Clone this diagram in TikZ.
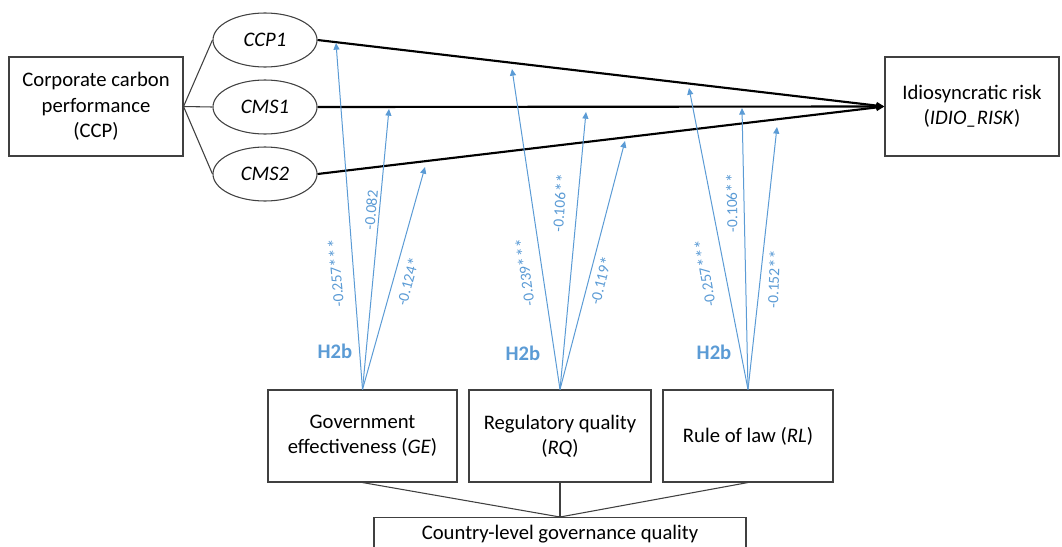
\documentclass[tikz,border=0pt]{standalone}
\usepackage{fontspec}
\setmainfont{Carlito}
\usetikzlibrary{arrows.meta,shapes.geometric}
\definecolor{lblue}{HTML}{5B9BD5}
\definecolor{edgegray}{HTML}{404040}
\newcommand{\sk}{\raisebox{-0.35ex}{\fontsize{14}{14}\selectfont *}}
\begin{document}
\begin{tikzpicture}[x=0.75pt,y=-0.75pt,
  box/.style={draw=edgegray, line width=0.8pt, align=center, inner sep=0pt,
    font=\fontsize{15.5}{19}\selectfont},
  ell/.style={draw=edgegray, line width=0.8pt, ellipse, inner sep=0pt,
    minimum width=78pt, minimum height=40.5pt, font=\fontsize{15.5}{19}\selectfont\itshape},
  thin/.style={draw=edgegray, line width=0.8pt},
  main/.style={draw=black, line width=1.6pt, -{Triangle[length=6pt,width=5pt]}},
  mod/.style={draw=lblue, line width=0.75pt, -{Triangle[length=5pt,width=4.5pt]}},
  coef/.style={text=lblue, font=\fontsize{11.6}{13}\selectfont, inner sep=0pt},
  hyp/.style={text=lblue, font=\fontsize{15.5}{18}\selectfont\bfseries, inner sep=0pt}]
\clip (0,0) rectangle (1062,546);
% boxes
\node[box, minimum width=130.5pt, minimum height=74.25pt] (ccp) at (96,106.5)
  {Corporate carbon\\performance\\(CCP)};
\node[box, minimum width=130.5pt, minimum height=74.25pt] (idio) at (972,106.5)
  {Idiosyncratic risk\\(\textit{IDIO\_RISK})};
\node[ell] (ccp1) at (265,40) {CCP1};
\node[ell] (cms1) at (265,107) {CMS1};
\node[ell] (cms2) at (265,174) {CMS2};
\node[box, minimum width=141.75pt, minimum height=69pt] (ge) at (362.5,436)
  {Government\\effectiveness (\textit{GE})};
\node[box, minimum width=136.5pt, minimum height=69pt] (rq) at (560,436)
  {Regulatory quality\\(\textit{RQ})};
\node[box, minimum width=127.5pt, minimum height=69pt] (rl) at (748,436)
  {Rule of law (\textit{RL})};
\node[box, minimum width=279pt, minimum height=30pt, anchor=north] (cgq) at (560,517) {};
\node[font=\fontsize{15.5}{19}\selectfont, inner sep=0pt] (cgqt) at (560,534) {Country-level governance quality};
% structure lines
\draw[thin] (ccp.east) -- (ccp1.west);
\draw[thin] (ccp.east) -- (cms1.west);
\draw[thin] (ccp.east) -- (cms2.west);
\draw[main] (ccp1.east) -- (idio.west);
\draw[main] (cms1.east) -- (idio.west);
\draw[main] (cms2.east) -- (idio.west);
\draw[thin] (ge.south) -- (cgq.north);
\draw[thin] (rq.south) -- (cgq.north);
\draw[thin] (rl.south) -- (cgq.north);
% moderation arrow targets
\coordinate (g1) at (336,43);
\coordinate (g2) at (389,109);
\coordinate (g3) at (425,167);
\coordinate (q1) at (512,69);
\coordinate (q2) at (586,112);
\coordinate (q3) at (625,141);
\coordinate (r1) at (689,88);
\coordinate (r2) at (742,108);
\coordinate (r3) at (777,127);
\draw[mod] (ge.north) -- (g1);
\draw[mod] (ge.north) -- (g2);
\draw[mod] (ge.north) -- (g3);
\draw[mod] (rq.north) -- (q1);
\draw[mod] (rq.north) -- (q2);
\draw[mod] (rq.north) -- (q3);
\draw[mod] (rl.north) -- (r1);
\draw[mod] (rl.north) -- (r2);
\draw[mod] (rl.north) -- (r3);
% coefficient labels
\node[coef, rotate=95] (lg1) at (337,273) {-0.257\sk\sk\sk};
\node[coef, rotate=85] (lg2) at (371,210) {-0.082};
\node[coef, rotate=75] (lg3) at (409,282) {-0.124\sk};
\node[coef, rotate=98] (lq1) at (526,272) {-0.239\sk\sk\sk};
\node[coef, rotate=86] (lq2) at (561,203) {-0.106\sk\sk};
\node[coef, rotate=76] (lq3) at (602,281) {-0.119\sk};
\node[coef, rotate=100] (lr1) at (706,273) {-0.257\sk\sk\sk};
\node[coef, rotate=91] (lr2) at (733,203) {-0.106\sk\sk};
\node[coef, rotate=88] (lr3) at (775,279) {-0.152\sk\sk};
\node[hyp] (h1) at (335,351) {H2b};
\node[hyp] (h2) at (523,353) {H2b};
\node[hyp] (h3) at (714,352) {H2b};
\end{tikzpicture}
\end{document}
